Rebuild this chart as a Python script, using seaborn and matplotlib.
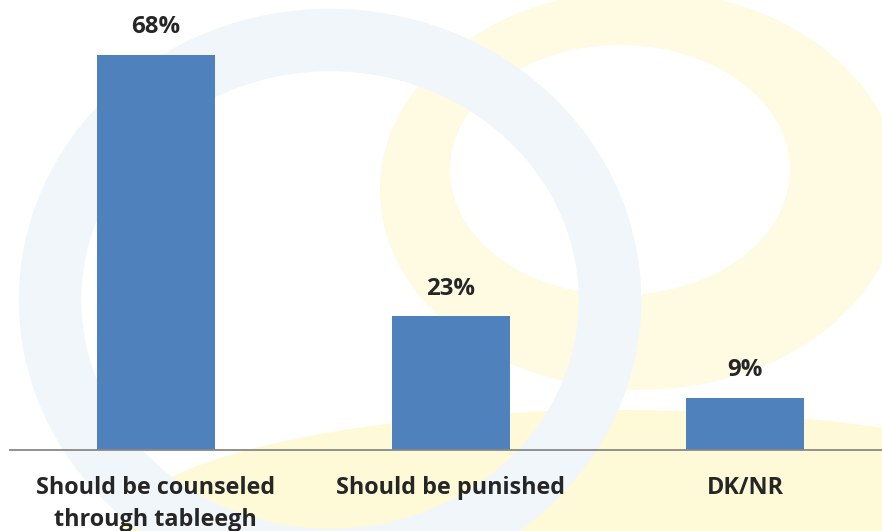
import matplotlib
matplotlib.use("Agg")
import matplotlib.pyplot as plt
import seaborn as sns
import pandas as pd
from matplotlib.patches import Ellipse

categories = ["Should be counseled\nthrough tableegh", "Should be punished", "DK/NR"]
values = [68, 23, 9]
value_labels = ["68%", "23%", "9%"]

df = pd.DataFrame({"category": categories, "value": values})

sns.set_style("white")
plt.rcParams["font.family"] = ["Open Sans", "DejaVu Sans"]

fig = plt.figure(figsize=(8.82, 5.31), dpi=100)

# faint background watermark
bg = fig.add_axes([0, 0, 1, 1], zorder=0)
bg.set_xlim(0, 882)
bg.set_ylim(531, 0)
bg.axis("off")
bg.add_patch(Ellipse((620, 530), 1000, 240, color="#fefad8", lw=0))
bg.add_patch(Ellipse((640, 190), 520, 400, color="#fefbe2", lw=0))
bg.add_patch(Ellipse((620, 170), 340, 250, color="#ffffff", lw=0))
bg.add_patch(Ellipse((330, 300), 560, 520, fill=False, ec="#f1f6fb", lw=45))

ax = fig.add_axes([10 / 882, 81 / 531, 872 / 882, 450 / 531], zorder=1)
ax.patch.set_alpha(0)
sns.barplot(data=df, x="category", y="value", color="#4f81bd", saturation=1,
            width=0.4, linewidth=0, ax=ax)

ax.set_xlim(-0.495, 2.464)
ax.set_ylim(0, 77.5)

for i, (v, lab) in enumerate(zip(values, value_labels)):
    ax.annotate(lab, (i, v), xytext=(0, 20), textcoords="offset points",
                ha="center", va="center", fontsize=17.3, fontweight="bold")

for s in ["top", "right", "left"]:
    ax.spines[s].set_visible(False)
ax.spines["bottom"].set_color("#888888")
ax.spines["bottom"].set_linewidth(1.3)
ax.set_yticks([])
ax.set_xlabel("")
ax.set_ylabel("")
ax.tick_params(axis="x", length=0, pad=19)
for t in ax.get_xticklabels():
    t.set_fontsize(16.8)
    t.set_fontweight("bold")
    t.set_linespacing(1.45)

fig.savefig("out.png", dpi=100)
